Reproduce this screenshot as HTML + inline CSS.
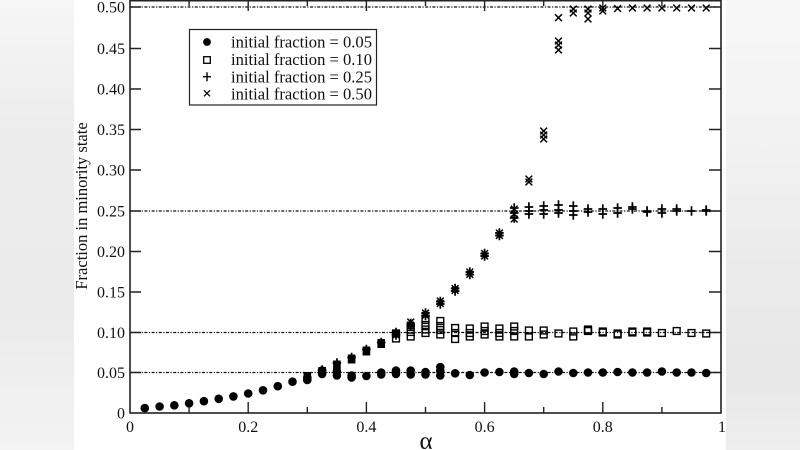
<!DOCTYPE html>
<html><head><meta charset="utf-8"><style>
html,body{margin:0;padding:0;width:800px;height:450px;overflow:hidden;background:#fff}
svg{display:block}
text{font-family:"Liberation Serif","Times New Roman","DejaVu Serif",serif;fill:#111}
</style></head><body>
<svg width="800" height="450" viewBox="0 0 800 450" xmlns="http://www.w3.org/2000/svg" font-family="Liberation Serif, Times New Roman, serif">
<defs>
<linearGradient id="gl" x1="0" y1="0" x2="0" y2="1">
<stop offset="0" stop-color="#f6f6f6"/><stop offset="0.3" stop-color="#ececec"/><stop offset="0.7" stop-color="#ebebeb"/><stop offset="1" stop-color="#f3f3f3"/></linearGradient>
<linearGradient id="gr" x1="0" y1="0" x2="0" y2="1">
<stop offset="0" stop-color="#f7f7f7"/><stop offset="0.35" stop-color="#f1f1f1"/><stop offset="0.6" stop-color="#eaeaea"/><stop offset="0.85" stop-color="#e8e8e8"/><stop offset="1" stop-color="#eeeeee"/></linearGradient>
<g id="d"><circle r="4.3" fill="#000"/></g>
<g id="s"><rect x="-3.4" y="-3.4" width="6.8" height="6.8" fill="none" stroke="#000" stroke-width="1.4"/></g>
<g id="p"><path d="M-4.3 0H4.3M0 -4.8V4.8" stroke="#000" stroke-width="1.7" fill="none"/></g>
<g id="x"><path d="M-3.4 -3.4L3.4 3.4M-3.4 3.4L3.4 -3.4" stroke="#000" stroke-width="1.5" fill="none"/></g>
</defs>
<rect x="0" y="0" width="74" height="450" fill="url(#gl)"/>
<rect x="726" y="0" width="74" height="450" fill="url(#gr)"/>
<rect x="74" y="0" width="652" height="450" fill="#fff"/>

<!-- reference lines -->
<g stroke="#111" stroke-width="1.2" stroke-dasharray="3 1.5 1.2 1.5" fill="none">
<path d="M130 372.5H721M130 332.5H721M130 211H721M130 7H721"/>
</g>

<!-- frame -->
<rect x="130" y="0.7" width="591" height="412.3" fill="none" stroke="#222" stroke-width="1.6"/>
<g stroke="#222" stroke-width="1.4">
<path d="M130 372.5h11M130 332.5h11M130 292h11M130 251.5h11M130 211h11M130 170h11M130 129.5h11M130 89h11M130 48.5h11M130 7h11"/>
<path d="M721 372.5h-12M721 332.5h-12M721 292h-12M721 251.5h-12M721 211h-12M721 170h-12M721 129.5h-12M721 89h-12M721 48.5h-12M721 7h-12"/>
<path d="M189.1 413v-6M307.3 413v-6M425.5 413v-6M543.7 413v-6M661.9 413v-6M248.2 413v-11M366.4 413v-11M484.6 413v-11M602.8 413v-11"/>
<path d="M189.1 0v6M307.3 0v6M425.5 0v6M543.7 0v6M661.9 0v6M248.2 0v11M366.4 0v11M484.6 0v11M602.8 0v11"/>
</g>

<g font-size="16" text-anchor="end" font-family="Liberation Serif, serif">
<text x="125" y="418.5">0</text>
<text x="125" y="378">0.05</text>
<text x="125" y="338">0.10</text>
<text x="125" y="297.5">0.15</text>
<text x="125" y="257">0.20</text>
<text x="125" y="216.5">0.25</text>
<text x="125" y="175.5">0.30</text>
<text x="125" y="135">0.35</text>
<text x="125" y="94.5">0.40</text>
<text x="125" y="54">0.45</text>
<text x="125" y="12.5">0.50</text>
</g>
<g font-size="16" text-anchor="middle" font-family="Liberation Serif, serif">
<text x="130" y="432">0</text>
<text x="248.2" y="432">0.2</text>
<text x="366.4" y="432">0.4</text>
<text x="484.6" y="432">0.6</text>
<text x="602.8" y="432">0.8</text>
<text x="722" y="432">1</text>
</g>
<text x="426" y="449" font-size="25" text-anchor="middle" font-family="Liberation Serif, serif">α</text>
<text transform="translate(87,206) rotate(-90)" font-size="16.5" text-anchor="middle" font-family="Liberation Serif, serif">Fraction in minority state</text>

<!-- dots curve -->
<use href="#d" x="144.8" y="408.1"/><use href="#d" x="159.6" y="406.5"/><use href="#d" x="174.3" y="405.3"/>
<use href="#d" x="189.1" y="403.3"/><use href="#d" x="203.9" y="401.2"/><use href="#d" x="218.7" y="398.8"/>
<use href="#d" x="233.4" y="396.4"/><use href="#d" x="248.2" y="393.5"/><use href="#d" x="263" y="390.3"/>
<use href="#d" x="277.8" y="386.2"/><use href="#d" x="292.5" y="381.7"/><use href="#d" x="307.3" y="377.7"/><use href="#d" x="307.3" y="380"/>
<!-- dots plateau -->
<use href="#d" x="322.1" y="370.5"/><use href="#d" x="322.1" y="374"/>
<use href="#d" x="336.9" y="371.5"/><use href="#d" x="336.9" y="375.5"/>
<use href="#d" x="351.6" y="375.5"/><use href="#d" x="351.6" y="377.5"/>
<use href="#d" x="366.4" y="376"/>
<use href="#d" x="381.2" y="374.5"/><use href="#d" x="381.2" y="372.5"/>
<use href="#d" x="396" y="370.5"/><use href="#d" x="396" y="374"/>
<use href="#d" x="410.7" y="370.5"/><use href="#d" x="410.7" y="374.5"/>
<use href="#d" x="425.5" y="372"/><use href="#d" x="425.5" y="374.5"/>
<use href="#d" x="440.3" y="367"/><use href="#d" x="440.3" y="371"/><use href="#d" x="440.3" y="375.5"/>
<use href="#d" x="455.1" y="373.3"/><use href="#d" x="469.8" y="375"/><use href="#d" x="484.6" y="372.5"/>
<use href="#d" x="499.4" y="372"/><use href="#d" x="514.2" y="371.5"/><use href="#d" x="514.2" y="374"/>
<use href="#d" x="528.9" y="373"/><use href="#d" x="543.7" y="374"/><use href="#d" x="558.5" y="371.5"/>
<use href="#d" x="573.3" y="373"/><use href="#d" x="588" y="372.5"/><use href="#d" x="602.8" y="372.5"/>
<use href="#d" x="617.6" y="372"/><use href="#d" x="632.4" y="372.5"/><use href="#d" x="647.1" y="372.5"/>
<use href="#d" x="661.9" y="371.5"/><use href="#d" x="676.7" y="372.5"/><use href="#d" x="691.5" y="372.5"/>
<use href="#d" x="706.2" y="373"/>

<!-- squares curve (appear filled due to overlaps) -->
<g fill="#000">
<rect x="303.5" y="372" width="7.6" height="8"/>
<rect x="318.3" y="367" width="7.6" height="8"/>
<rect x="333.1" y="360.5" width="7.6" height="9"/>
<rect x="347.8" y="354.5" width="7.6" height="9"/>
<rect x="362.6" y="346.5" width="7.6" height="9"/>
<rect x="377.4" y="339" width="7.6" height="9"/>
</g>
<!-- squares plateau -->
<use href="#s" x="396" y="333.5"/><use href="#s" x="396" y="338.5"/>
<use href="#s" x="410.7" y="327"/><use href="#s" x="410.7" y="332"/><use href="#s" x="410.7" y="336.5"/>
<use href="#s" x="425.5" y="320"/><use href="#s" x="425.5" y="325"/><use href="#s" x="425.5" y="329.5"/><use href="#s" x="425.5" y="333"/>
<use href="#s" x="440.3" y="321"/><use href="#s" x="440.3" y="326"/><use href="#s" x="440.3" y="330"/><use href="#s" x="440.3" y="334.5"/>
<use href="#s" x="455.1" y="328"/><use href="#s" x="455.1" y="333"/><use href="#s" x="455.1" y="339"/>
<use href="#s" x="469.8" y="328.5"/><use href="#s" x="469.8" y="333"/><use href="#s" x="469.8" y="336.5"/>
<use href="#s" x="484.6" y="326.5"/><use href="#s" x="484.6" y="331"/><use href="#s" x="484.6" y="334.5"/>
<use href="#s" x="499.4" y="328.5"/><use href="#s" x="499.4" y="333"/><use href="#s" x="499.4" y="336.5"/>
<use href="#s" x="514.2" y="326.5"/><use href="#s" x="514.2" y="331"/><use href="#s" x="514.2" y="336.5"/>
<use href="#s" x="528.9" y="330.5"/><use href="#s" x="528.9" y="336.5"/>
<use href="#s" x="543.7" y="330.5"/><use href="#s" x="543.7" y="334.5"/>
<use href="#s" x="558.5" y="333.5"/>
<use href="#s" x="573.3" y="331.5"/><use href="#s" x="573.3" y="336.5"/>
<use href="#s" x="588" y="329.5"/><use href="#s" x="588" y="330.5"/><use href="#s" x="588" y="331"/>
<use href="#s" x="602.8" y="331.5"/><use href="#s" x="602.8" y="332.5"/>
<use href="#s" x="617.6" y="333.5"/><use href="#s" x="617.6" y="334.5"/>
<use href="#s" x="632.4" y="331.5"/><use href="#s" x="632.4" y="332.5"/>
<use href="#s" x="647.1" y="331.5"/><use href="#s" x="647.1" y="332.5"/>
<use href="#s" x="661.9" y="333"/><use href="#s" x="676.7" y="331"/><use href="#s" x="691.5" y="333"/>
<use href="#s" x="706.2" y="333.5"/>

<!-- pluses & crosses on curve -->
<g>
<use href="#p" x="322.1" y="370"/><use href="#x" x="322.1" y="371"/>
<use href="#p" x="336.9" y="363"/><use href="#x" x="336.9" y="365"/>
<use href="#p" x="351.6" y="357.5"/><use href="#x" x="351.6" y="359"/>
<use href="#p" x="366.4" y="349.5"/><use href="#x" x="366.4" y="351"/>
<use href="#p" x="381.2" y="342.5"/><use href="#x" x="381.2" y="344"/>
<use href="#p" x="396" y="332.5"/><use href="#p" x="396" y="335"/><use href="#x" x="396" y="333"/><use href="#x" x="396" y="335"/><circle cx="396" cy="334" r="3.5"/>
<use href="#p" x="410.7" y="323.5"/><use href="#p" x="410.7" y="326"/><use href="#x" x="410.7" y="322"/><use href="#x" x="410.7" y="325"/><circle cx="410.7" cy="324.5" r="3.5"/>
<use href="#p" x="425.5" y="313"/><use href="#p" x="425.5" y="315.5"/><use href="#x" x="425.5" y="313"/><use href="#x" x="425.5" y="315.5"/><circle cx="425.5" cy="314.3" r="3"/>
<use href="#p" x="440.3" y="301.5"/><use href="#p" x="440.3" y="304"/><use href="#x" x="440.3" y="301"/><use href="#x" x="440.3" y="303.5"/><circle cx="440.3" cy="302.6" r="2.8"/>
<use href="#p" x="455.1" y="288.5"/><use href="#p" x="455.1" y="291"/><use href="#x" x="455.1" y="288.5"/><use href="#x" x="455.1" y="290.5"/><circle cx="455.1" cy="289.6" r="2.8"/>
<use href="#p" x="469.8" y="272"/><use href="#p" x="469.8" y="274.5"/><use href="#x" x="469.8" y="272"/><use href="#x" x="469.8" y="274.5"/><circle cx="469.8" cy="273.3" r="2.8"/>
<use href="#p" x="484.6" y="253.5"/><use href="#p" x="484.6" y="256"/><use href="#x" x="484.6" y="253.5"/><use href="#x" x="484.6" y="256"/><circle cx="484.6" cy="254.7" r="2.8"/>
<use href="#p" x="499.4" y="233"/><use href="#p" x="499.4" y="235.5"/><use href="#x" x="499.4" y="233"/><use href="#x" x="499.4" y="235.5"/><circle cx="499.4" cy="234.4" r="2.8"/>
</g>
<!-- plus plateau 0.25 -->
<use href="#p" x="514.2" y="208"/><use href="#p" x="514.2" y="213"/><use href="#p" x="514.2" y="218"/>
<use href="#p" x="528.9" y="207"/><use href="#p" x="528.9" y="211"/><use href="#p" x="528.9" y="214"/>
<use href="#p" x="543.7" y="206"/><use href="#p" x="543.7" y="210"/><use href="#p" x="543.7" y="214"/>
<use href="#p" x="558.5" y="205"/><use href="#p" x="558.5" y="210"/><use href="#p" x="558.5" y="213"/>
<use href="#p" x="573.3" y="206"/><use href="#p" x="573.3" y="211"/><use href="#p" x="573.3" y="215"/>
<use href="#p" x="588" y="209"/><use href="#p" x="588" y="212"/>
<use href="#p" x="602.8" y="209"/><use href="#p" x="602.8" y="214"/>
<use href="#p" x="617.6" y="208"/><use href="#p" x="617.6" y="213"/>
<use href="#p" x="632.4" y="207"/><use href="#p" x="632.4" y="209"/>
<use href="#p" x="647.1" y="211"/><use href="#p" x="647.1" y="212"/>
<use href="#p" x="661.9" y="209"/><use href="#p" x="661.9" y="213"/>
<use href="#p" x="676.7" y="209"/><use href="#p" x="676.7" y="211"/>
<use href="#p" x="691.5" y="211"/>
<use href="#p" x="706.2" y="210"/><use href="#p" x="706.2" y="211"/>
<!-- crosses upper -->
<use href="#x" x="514.2" y="209"/><use href="#x" x="514.2" y="214"/><use href="#x" x="514.2" y="219"/>
<use href="#x" x="528.9" y="179"/><use href="#x" x="528.9" y="182"/>
<use href="#x" x="543.7" y="131"/><use href="#x" x="543.7" y="135"/><use href="#x" x="543.7" y="139"/>
<use href="#x" x="558.5" y="17.7"/><use href="#x" x="558.5" y="41"/><use href="#x" x="558.5" y="45"/><use href="#x" x="558.5" y="50"/>
<use href="#x" x="573.3" y="9"/><use href="#x" x="573.3" y="13"/>
<use href="#x" x="588" y="9"/><use href="#x" x="588" y="13"/><use href="#x" x="588" y="19"/>
<use href="#x" x="602.8" y="8"/><use href="#x" x="602.8" y="11"/>
<use href="#x" x="617.6" y="8.5"/><use href="#x" x="632.4" y="8"/><use href="#x" x="647.1" y="8"/>
<use href="#x" x="661.9" y="8"/><use href="#x" x="676.7" y="8"/><use href="#x" x="691.5" y="8"/><use href="#x" x="706.2" y="8"/>

<!-- legend -->
<rect x="189.5" y="29.5" width="187" height="75.5" fill="#fff" stroke="#222" stroke-width="1.2"/>
<circle cx="207" cy="42" r="3.9" fill="#000"/>
<rect x="203.7" y="56.7" width="6.6" height="6.6" fill="none" stroke="#000" stroke-width="1.3"/>
<path d="M203 76.7H211M207 72.2V81.2" stroke="#000" stroke-width="1.4"/>
<path d="M204 90.3L210 96.3M204 96.3L210 90.3" stroke="#000" stroke-width="1.2"/>
<g font-size="16.5" font-family="Liberation Serif, serif">
<text x="231" y="47.3" textLength="141" lengthAdjust="spacingAndGlyphs">initial fraction = 0.05</text>
<text x="231" y="65" textLength="141" lengthAdjust="spacingAndGlyphs">initial fraction = 0.10</text>
<text x="231" y="82.3" textLength="141" lengthAdjust="spacingAndGlyphs">initial fraction = 0.25</text>
<text x="231" y="99.6" textLength="141" lengthAdjust="spacingAndGlyphs">initial fraction = 0.50</text>
</g>
</svg>
</body></html>
